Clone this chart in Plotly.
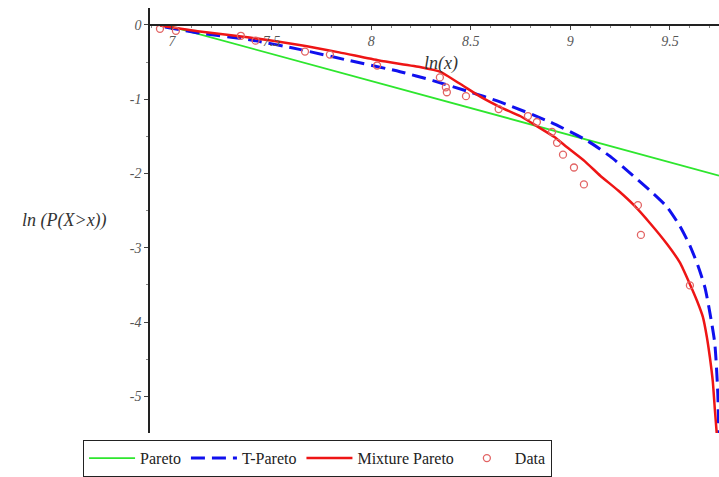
import plotly.graph_objects as go

# ---- data ----
pareto_x = [6.965, 9.746]
pareto_y = [0.0, -2.03]

tpareto_x = [6.965, 7.14, 7.39, 7.64, 7.89, 8.145, 8.31, 8.48, 8.65, 8.90, 9.085, 9.20,
             9.315, 9.40, 9.485, 9.55, 9.60, 9.64, 9.675, 9.70, 9.725, 9.74, 9.746]
tpareto_y = [-0.03, -0.11, -0.20, -0.33, -0.48, -0.63, -0.75, -0.89, -1.04, -1.31, -1.56, -1.77,
             -2.03, -2.23, -2.45, -2.71, -2.97, -3.24, -3.53, -3.87, -4.29, -4.96, -5.67]

mixture_x = [6.94, 7.14, 7.39, 7.64, 7.84, 8.04, 8.25, 8.345, 8.45, 8.55, 8.65, 8.75, 8.83,
             8.92, 8.98, 9.07, 9.15, 9.24, 9.32, 9.40, 9.485, 9.55, 9.60, 9.635, 9.665,
             9.685, 9.70, 9.715, 9.725, 9.735]
mixture_y = [-0.01, -0.09, -0.17, -0.27, -0.37, -0.48, -0.57, -0.63, -0.80, -0.97, -1.11,
             -1.23, -1.36, -1.51, -1.64, -1.83, -2.03, -2.23, -2.43, -2.67, -2.95, -3.20,
             -3.49, -3.71, -3.93, -4.20, -4.47, -4.80, -5.17, -5.51]

data_x = [6.94, 7.02, 7.346, 7.42, 7.668, 7.793, 8.03, 8.345, 8.375, 8.38, 8.476, 8.64,
          8.787, 8.832, 8.908, 8.933, 8.963, 9.018, 9.068, 9.339, 9.354, 9.60]
data_y = [-0.053, -0.08, -0.147, -0.213, -0.36, -0.40, -0.547, -0.707, -0.84, -0.907,
          -0.96, -1.133, -1.227, -1.307, -1.44, -1.587, -1.747, -1.92, -2.147, -2.427,
          -2.827, -3.507]

x_tickvals = [7, 7.5, 8, 8.5, 9, 9.5]
x_ticktext = ["7", "7.5", "8", "8.5", "9", "9.5"]
y_tickvals = [0, -1, -2, -3, -4, -5]
y_ticktext = ["0", "-1", "-2", "-3", "-4", "-5"]

x_range = [6.89, 9.746]
y_range = [-5.493, 0.227]

serif = "Liberation Serif, Times New Roman, serif"

fig = go.Figure()
fig.add_trace(go.Scatter(x=pareto_x, y=pareto_y, mode="lines", name="Pareto",
                         line=dict(color="#2ee62e", width=1.8)))
fig.add_trace(go.Scatter(x=tpareto_x, y=tpareto_y, mode="lines", name="T-Pareto",
                         line=dict(color="#1010ee", width=3, dash="14px,7px",
                                   shape="spline", smoothing=0.6)))
fig.add_trace(go.Scatter(x=mixture_x, y=mixture_y, mode="lines", name="Mixture Pareto",
                         line=dict(color="#ee1515", width=2.5, shape="spline", smoothing=0.5)))
fig.add_trace(go.Scatter(x=data_x, y=data_y, mode="markers", name="Data",
                         marker=dict(symbol="circle-open", size=7, color="#e26464",
                                     line=dict(width=1.3, color="#e26464"))))

zero_pos = (0 - y_range[0]) / (y_range[1] - y_range[0])

tickfont = dict(family=serif, size=14, color="#555555")

fig.update_layout(
    width=719, height=477,
    margin=dict(l=150, r=0, t=8, b=40),
    paper_bgcolor="white", plot_bgcolor="white",
    font=dict(family=serif),
    showlegend=True,
    legend=dict(orientation="h", x=-0.118, xanchor="left", y=-0.017, yanchor="top",
                bordercolor="#222222", borderwidth=1.2,
                font=dict(family=serif, size=16, color="#222222"),
                itemwidth=46, tracegroupgap=0),
    xaxis=dict(range=x_range, anchor="free", position=zero_pos, side="bottom",
               showline=True, linecolor="#222222", linewidth=1.5, showgrid=False,
               zeroline=False, tickvals=x_tickvals,
               ticktext=["<i>" + t + "</i>" for t in x_ticktext],
               ticks="outside", ticklen=4, tickcolor="#444444", tickfont=tickfont,
               minor=dict(dtick=0.1, tick0=7, ticks="outside", ticklen=2, tickcolor="#888888")),
    yaxis=dict(range=y_range, showline=True, linecolor="#222222", linewidth=1.5,
               showgrid=False, zeroline=False, tickvals=y_tickvals,
               ticktext=["<i>" + t + "</i>" for t in y_ticktext],
               ticks="outside", ticklen=4, tickcolor="#444444", tickfont=tickfont,
               minor=dict(dtick=0.5, tick0=0, ticks="outside", ticklen=2, tickcolor="#888888")),
    annotations=[
        dict(text="<i>ln(x)</i>", xref="paper", yref="paper", x=0.511, y=0.869,
             xanchor="center", yanchor="middle",
             showarrow=False, font=dict(family=serif, size=18, color="#333333")),
        dict(text="<i>ln (P(X>x))</i>", xref="paper", yref="paper", x=-0.151, y=0.501,
             xanchor="center", yanchor="middle", showarrow=False,
             font=dict(family=serif, size=18, color="#333333")),
    ],
)

fig.write_html("out.html")
